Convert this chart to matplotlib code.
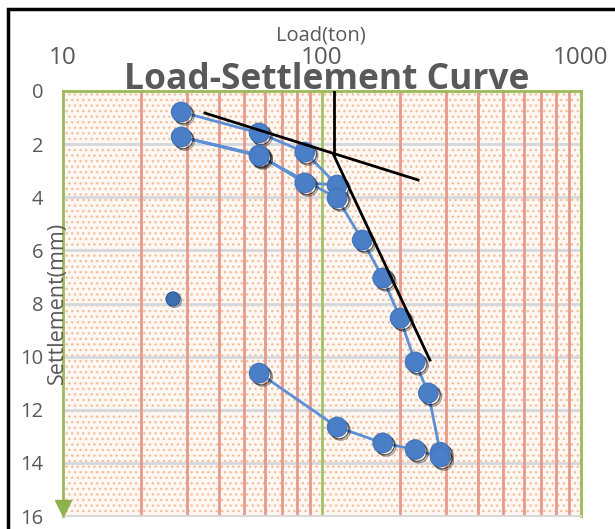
import matplotlib
matplotlib.use('Agg')
import matplotlib.pyplot as plt
import matplotlib.patheffects as pe
from matplotlib.patches import Rectangle
import numpy as np

# ---- data ----
loads = [28.6, 57.2, 85.8, 114.4, 85.8, 57.2, 28.6, 57.2, 114.4, 143.0,
         171.6, 200.2, 228.8, 257.4, 286.0, 286.0, 228.8, 171.6, 114.4, 57.2]
settlement = [0.79, 1.58, 2.30, 3.54, 3.46, 2.41, 1.73, 2.45, 4.03, 5.61,
              7.04, 8.55, 10.20, 11.37, 13.60, 13.78, 13.50, 13.25, 12.65, 10.62]
extra_load = [26.6]
extra_settlement = [7.83]

tangent1_x = [35.3, 235.0]
tangent1_y = [0.83, 3.35]
vertical_x = [111.0, 111.0]
vertical_y = [0.0, 2.41]
tangent2_x = [111.0, 261.0]
tangent2_y = [2.41, 10.13]

x_ticks = [10, 100, 1000]
x_tick_labels = ['10', '100', '1000']
y_ticks = [0, 2, 4, 6, 8, 10, 12, 14, 16]

W, H = 615, 529
plt.rcParams['font.family'] = ['Open Sans', 'DejaVu Sans']
plt.rcParams['hatch.linewidth'] = 1.0
plt.rcParams['hatch.color'] = '#f4c09c'

fig = plt.figure(figsize=(W / 100, H / 100), dpi=100)
fig.patch.set_facecolor('white')

L, R, T, B = 63, 581, 91, 516
ax = fig.add_axes([L / W, 1 - B / H, (R - L) / W, (B - T) / H])
ax.set_xscale('log')
ax.set_xlim(10, 1000)
ax.set_ylim(16, 0)
ax.set_facecolor('#fef8f4')

# dotted background
ax.add_patch(Rectangle((0, 0), 1, 1, transform=ax.transAxes, facecolor='none',
                       edgecolor='#f4c09c', hatch='...', lw=0, zorder=0.2))

# grid lines
for yv in y_ticks[1:]:
    ax.axhline(yv, color='#d5d8dc', lw=2, zorder=1)
minor_x = [m * d for d in (10, 100) for m in range(2, 10)]
for xv in minor_x:
    ax.axvline(xv, color='#e69a8c', lw=2, zorder=1)
ax.axvline(100, color='#a3c266', lw=2, zorder=1)

ax.xaxis.tick_top()
ax.set_xticks(x_ticks)
ax.set_xticklabels(x_tick_labels)
ax.xaxis.set_minor_locator(matplotlib.ticker.NullLocator())
ax.set_yticks(y_ticks)
ax.set_yticklabels([str(v) for v in y_ticks])
ax.tick_params(axis='x', which='both', length=0, pad=15, labelsize=17.5, labelcolor='#595959')
ax.tick_params(axis='y', which='both', length=0, pad=14, labelsize=14.5, labelcolor='#595959')

for s in ('top', 'left', 'right'):
    ax.spines[s].set_color('#9bbb59')
    ax.spines[s].set_linewidth(2)
ax.spines['bottom'].set_color('#d9d9d9')
ax.spines['bottom'].set_linewidth(1.5)

# arrow at the bottom of the vertical axis
ax.plot([0], [0.02], marker='v', ms=11, color='#8fb24f', transform=ax.transAxes,
        clip_on=False, zorder=6)

# data series
ax.plot(loads, settlement, color='#5b8fd6', lw=2, zorder=3)
shadow = [pe.SimpleLineShadow(offset=(2.5, -2.5), shadow_color='black', alpha=0.35),
          pe.SimpleLineShadow(offset=(1.5, -1.5), shadow_color='black', alpha=0.6),
          pe.Normal()]
ax.plot(loads, settlement, ls='none', marker='o', ms=14, mfc='#4a7ec6', mec='#4677bd',
        mew=1, zorder=4, path_effects=shadow)
ax.plot(extra_load, extra_settlement, ls='none', marker='o', ms=10, mfc='#3d6fb0',
        mec='#2f5f9e', zorder=4,
        path_effects=[pe.SimpleLineShadow(offset=(1, -1), shadow_color='black', alpha=0.4),
                      pe.Normal()])

# construction lines
for xs, ys in ((tangent1_x, tangent1_y), (vertical_x, vertical_y), (tangent2_x, tangent2_y)):
    ax.plot(xs, ys, color='black', lw=2, zorder=5)

# texts
fig.text(321 / W, 1 - 41 / H, 'Load(ton)', ha='center', va='baseline',
         fontsize=14.5, color='#595959')
fig.text(327 / W, 1 - 89 / H, 'Load-Settlement Curve', ha='center', va='baseline',
         fontsize=25.5, fontweight='bold', color='#595959', zorder=10)
fig.text(57 / W, 1 - 303 / H, 'Settlement(mm)', ha='center', va='center', rotation=90,
         fontsize=15.5, color='#595959', zorder=10)

# outer frame
fig.patches.append(Rectangle((8 / W, -0.05), 1.0, 1.05 - 9 / H, transform=fig.transFigure,
                             fill=False, edgecolor='black', lw=2.5))

fig.savefig('out.png', dpi=100)
